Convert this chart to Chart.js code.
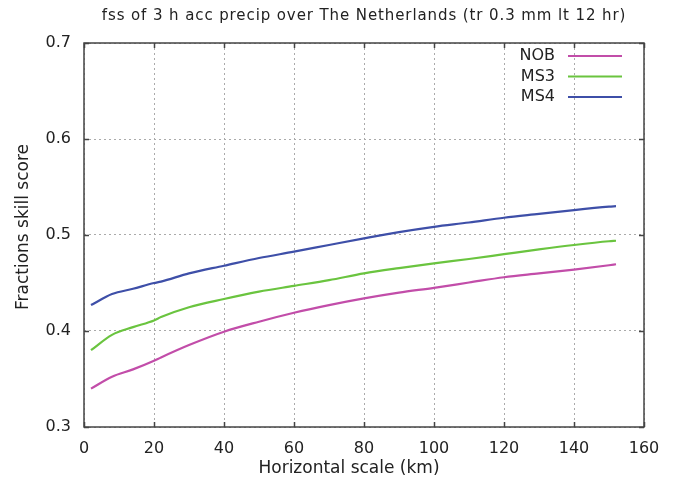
<!DOCTYPE html>
<html>
<head>
<meta charset="utf-8">
<script src="https://cdn.jsdelivr.net/npm/chart.js@4.4.0/dist/chart.umd.min.js"></script>
<style>
html,body{margin:0;padding:0;background:#fff;}
#wrap{width:675px;height:485px;}
</style>
</head>
<body>
<div id="wrap"><canvas id="c" width="675" height="485"></canvas></div>
<script>
const titleText = "fss of 3 h acc precip over The Netherlands (tr 0.3 mm lt 12 hr)";
const xLabel = "Horizontal scale (km)";
const yLabel = "Fractions skill score";
const seriesNames = ["NOB", "MS3", "MS4"];
const scaleKm = [2, 8, 14, 20, 22, 30, 40, 50, 60, 70, 80, 90, 100, 110, 120, 130, 140, 150, 152];
const nob = [0.340, 0.3524, 0.360, 0.369, 0.3725, 0.3854, 0.3993, 0.4097, 0.419, 0.427, 0.434, 0.440, 0.445, 0.4505, 0.456, 0.460, 0.464, 0.4685, 0.4695];
const ms3 = [0.380, 0.396, 0.404, 0.411, 0.4145, 0.4247, 0.4333, 0.441, 0.447, 0.453, 0.460, 0.4655, 0.4705, 0.475, 0.480, 0.485, 0.4896, 0.4935, 0.494];
const ms4 = [0.427, 0.4385, 0.444, 0.450, 0.4515, 0.460, 0.468, 0.476, 0.4826, 0.4896, 0.4965, 0.503, 0.5085, 0.513, 0.518, 0.522, 0.526, 0.5295, 0.530];
const xTicks = [0, 20, 40, 60, 80, 100, 120, 140, 160];
const yTicks = [0.3, 0.4, 0.5, 0.6, 0.7];
const colors = ["#c24da9", "#6ac43f", "#3e4fa8"];

const FONT = "'DejaVu Sans', sans-serif";
const TEXT = "#222";
const BORDER = "#444";

function pts(vals){ return scaleKm.map((x,i)=>({x:x, y:vals[i]})); }

const textPlugin = {
  id: 'gpText',
  afterDraw(chart){
    const ctx = chart.ctx;
    ctx.save();
    ctx.fillStyle = TEXT;
    // title
    ctx.font = "15px " + FONT;
    try { ctx.letterSpacing = "0.9px"; } catch(e) {}
    ctx.textAlign = "center";
    ctx.textBaseline = "middle";
    ctx.fillText(titleText, 364, 16);
    try { ctx.letterSpacing = "0px"; } catch(e) {}
    // axis titles
    ctx.font = "17px " + FONT;
    ctx.fillText(xLabel, 349, 469);
    ctx.save();
    ctx.translate(24, 227);
    ctx.rotate(-Math.PI/2);
    ctx.fillText(yLabel, 0, 0);
    ctx.restore();
    // legend
    ctx.font = "16px " + FONT;
    ctx.textAlign = "right";
    chart.data.datasets.forEach((ds,i)=>{
      const y = 56 + 20.5*i;
      ctx.fillStyle = TEXT;
      ctx.fillText(ds.label, 555, y);
      ctx.strokeStyle = ds.borderColor;
      ctx.lineWidth = 2;
      ctx.beginPath();
      ctx.moveTo(568, y);
      ctx.lineTo(622, y);
      ctx.stroke();
    });
    ctx.restore();
  }
};

const tickPlugin = {
  id: 'inTicks',
  afterDatasetsDraw(chart){
    const ctx = chart.ctx;
    const a = chart.chartArea;
    const xs = chart.scales.x, ys = chart.scales.y;
    ctx.save();
    ctx.strokeStyle = BORDER;
    ctx.lineWidth = 1.5;
    ctx.beginPath();
    xTicks.forEach(v=>{
      const px = Math.round(xs.getPixelForValue(v))+0.5;
      ctx.moveTo(px, a.bottom); ctx.lineTo(px, a.bottom-5);
      ctx.moveTo(px, a.top); ctx.lineTo(px, a.top+5);
    });
    yTicks.forEach(v=>{
      const py = Math.round(ys.getPixelForValue(v))+0.5;
      ctx.moveTo(a.left, py); ctx.lineTo(a.left+5, py);
      ctx.moveTo(a.right, py); ctx.lineTo(a.right-5, py);
    });
    ctx.stroke();
    ctx.strokeRect(a.left, a.top, a.right-a.left, a.bottom-a.top);
    ctx.restore();
  }
};

new Chart(document.getElementById('c'), {
  type: 'line',
  data: {
    datasets: [
      {label: seriesNames[0], data: pts(nob), borderColor: colors[0], backgroundColor: colors[0], borderWidth: 2.2, pointRadius: 0, cubicInterpolationMode: 'monotone'},
      {label: seriesNames[1], data: pts(ms3), borderColor: colors[1], backgroundColor: colors[1], borderWidth: 2.2, pointRadius: 0, cubicInterpolationMode: 'monotone'},
      {label: seriesNames[2], data: pts(ms4), borderColor: colors[2], backgroundColor: colors[2], borderWidth: 2.2, pointRadius: 0, cubicInterpolationMode: 'monotone'}
    ]
  },
  options: {
    responsive: false,
    animation: false,
    layout: {padding: {top: 43, right: 31, bottom: 0, left: 0}},
    plugins: {
      legend: {display: false},
      tooltip: {enabled: false},
      title: {display: false}
    },
    scales: {
      x: {
        type: 'linear', min: 0, max: 160,
        afterBuildTicks(s){ s.ticks = xTicks.map(v=>({value:v})); },
        afterFit(s){ s.height = 58; },
        grid: {color: '#aaaaaa', lineWidth: 1, drawTicks: false},
        border: {display: false, dash: [2,3]},
        ticks: {color: TEXT, font: {family: FONT, size: 16}, padding: 12, maxRotation: 0}
      },
      y: {
        type: 'linear', min: 0.3, max: 0.7,
        afterBuildTicks(s){ s.ticks = yTicks.map(v=>({value:v})); },
        afterFit(s){ s.width = 84; },
        grid: {color: '#aaaaaa', lineWidth: 1, drawTicks: false},
        border: {display: false, dash: [2,3]},
        ticks: {color: TEXT, font: {family: FONT, size: 16}, padding: 13, callback: v => v.toFixed(1)}
      }
    }
  },
  plugins: [textPlugin, tickPlugin]
});
</script>
</body>
</html>
